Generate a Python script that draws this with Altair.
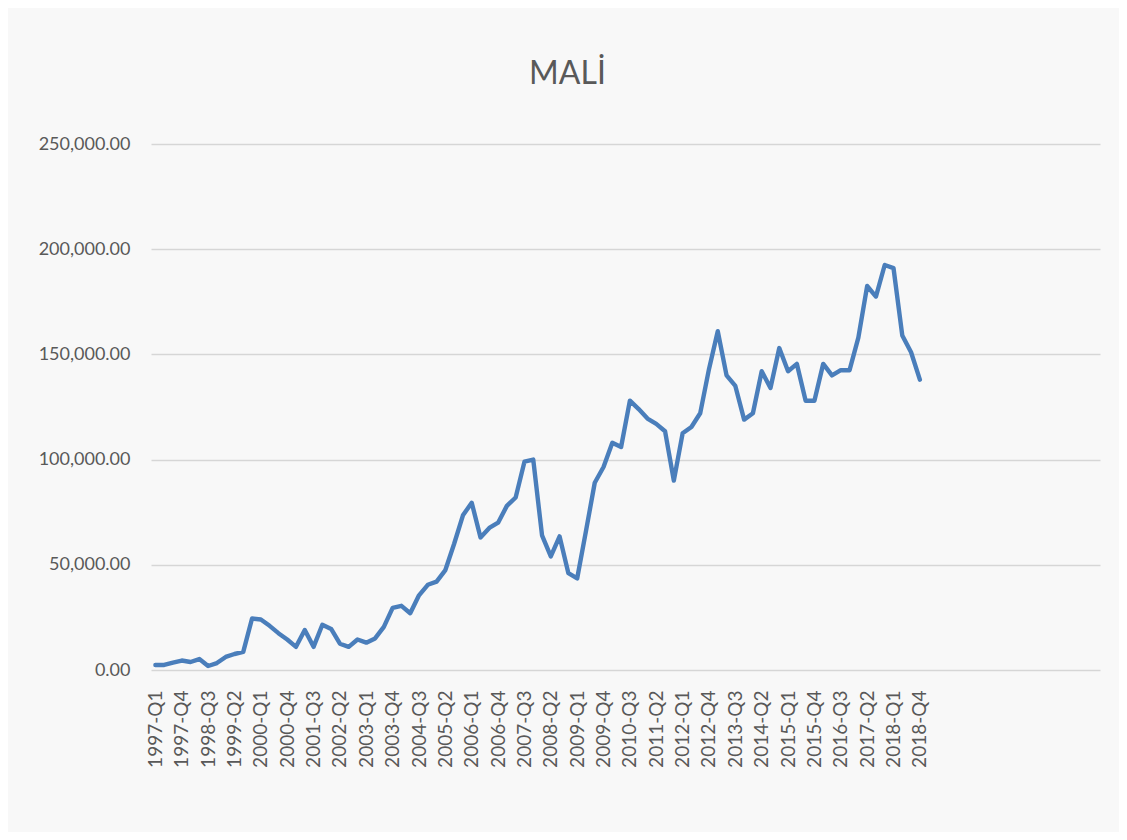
import altair as alt
import pandas as pd

# quarterly categories shown on the axis (data range 1997-Q1 .. 2018-Q4)
years = list(range(1997, 2019))
quarters = [f"{y}-Q{q}" for y in years for q in range(1, 5)]
# the Excel category range continues with empty rows up to 2023-Q4
extra_years = list(range(2019, 2024))
extra_quarters = [f"{y}-Q{q}" for y in extra_years for q in range(1, 5)]
all_quarters = quarters + extra_quarters

values = [
    2400, 2400, 3500, 4500, 3800, 5200, 1900, 3300, 6200, 7600,
    8600, 24500, 24000, 21000, 17500, 14500, 11000, 19000, 11000, 21500,
    19500, 12500, 11000, 14500, 13000, 15000, 20500, 29500, 30500, 27000,
    35500, 40500, 42000, 47500, 60000, 73500, 79500, 63000, 67500, 70000,
    78000, 82000, 99000, 100000, 64000, 54000, 63500, 46000, 43500, 66000,
    89000, 96500, 108000, 106000, 128000, 124000, 119500, 117000, 113500, 90000,
    112500, 115500, 122000, 143000, 161000, 140000, 135000, 119000, 122000, 142000,
    134000, 153000, 142000, 145500, 128000, 128000, 145500, 140000, 142500, 142500,
    158000, 182500, 177500, 192500, 191000, 159000, 151000, 138000,
]

y_ticks = [0, 50000, 100000, 150000, 200000, 250000]
x_label_values = quarters[::3]

df = pd.DataFrame({"quarter": quarters, "value": values})

text_color = "#595959"
font = "Lato"

chart = (
    alt.Chart(df)
    .mark_line(color="#4A7EBB", strokeWidth=4.4, strokeJoin="round", strokeCap="round")
    .encode(
        x=alt.X(
            "quarter:O",
            scale=alt.Scale(type="point", domain=all_quarters, padding=0.5),
            axis=alt.Axis(
                title=None,
                values=x_label_values,
                labelAngle=-90,
                labelFontSize=19,
                labelFont=font,
                labelColor=text_color,
                labelPadding=20,
                ticks=False,
                domain=False,
                grid=False,
            ),
        ),
        y=alt.Y(
            "value:Q",
            scale=alt.Scale(domain=[0, 250000], nice=False, zero=True),
            axis=alt.Axis(
                title=None,
                values=y_ticks,
                format=",.2f",
                labelFontSize=18,
                labelFont=font,
                labelColor=text_color,
                labelPadding=21,
                ticks=False,
                domain=False,
                grid=True,
                gridColor="#d6d6d6",
                gridWidth=1.6,
            ),
        ),
    )
    .properties(
        width=949,
        height=526,
        title=alt.TitleParams(
            text="MALİ",
            fontSize=32,
            font=font,
            fontWeight="normal",
            color=text_color,
            anchor="middle",
            frame="group",
            dx=-58,
            offset=44,
        ),
        autosize=alt.AutoSizeParams(type="none"),
        padding={"left": 143, "top": 136, "right": 19, "bottom": 162},
        background="#f8f8f8",
    )
    .configure_view(stroke=None)
)

chart.save("out.html", embed_options={"renderer": "svg", "actions": False})
